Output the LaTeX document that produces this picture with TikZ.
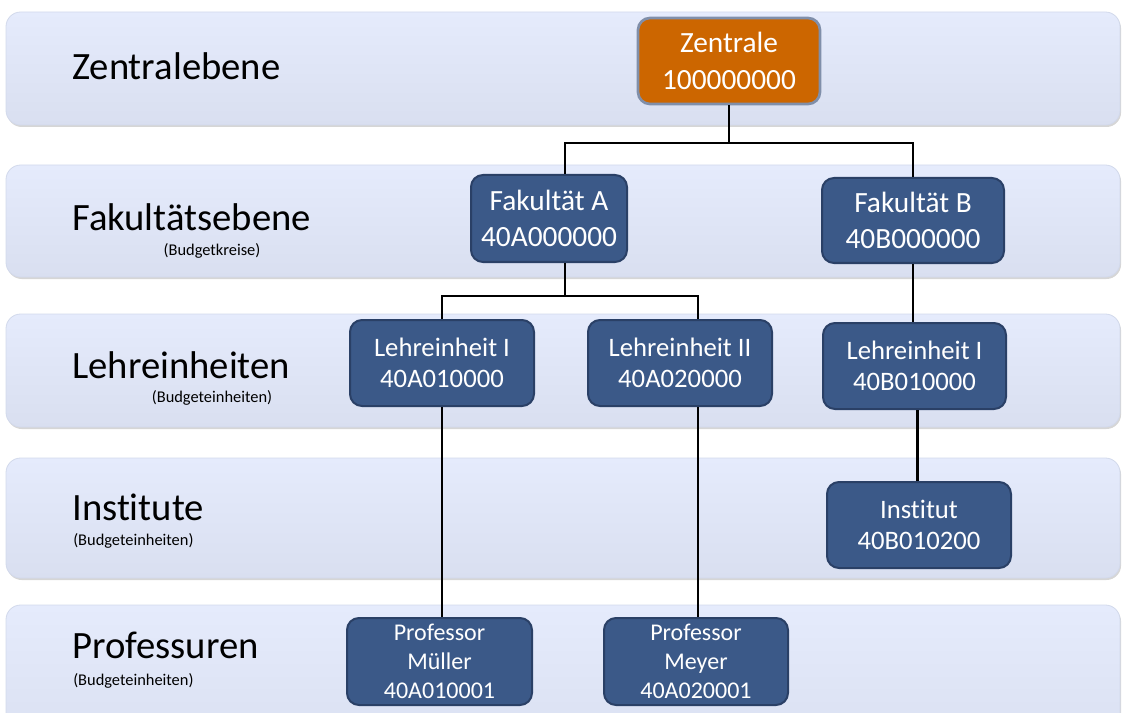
\documentclass[tikz,border=0pt]{standalone}
\usepackage{fontspec}
\setmainfont{Carlito}[Ligatures={NoCommon}]
\usetikzlibrary{shadows}
\definecolor{bandtop}{RGB}{229,235,252}
\definecolor{bandbot}{RGB}{217,223,240}
\definecolor{bandline}{RGB}{210,217,235}
\definecolor{nodefill}{RGB}{59,89,136}
\definecolor{nodeline}{RGB}{42,64,102}
\definecolor{orangefill}{RGB}{204,102,0}
\definecolor{orangeline}{RGB}{128,143,170}
\begin{document}
\begin{tikzpicture}[x=0.75pt,y=-0.75pt,
  band/.style={rounded corners=11pt, top color=bandtop, bottom color=bandbot, draw=bandline, line width=0.6pt,
    drop shadow={shadow xshift=0.8pt, shadow yshift=-1.5pt, opacity=0.4, fill=gray!80}},
  unit/.style={rounded corners=9pt, fill=nodefill, draw=nodeline, line width=1.5pt, text=white,
    align=center, inner sep=0pt, font=\fontsize{20}{23.5}\selectfont},
  bigunit/.style={unit, font=\fontsize{22}{27.5}\selectfont},
  profunit/.style={unit, font=\fontsize{18}{21.8}\selectfont},
  topunit/.style={bigunit, fill=orangefill, draw=orangeline, line width=2pt},
  lvl/.style={anchor=base west, inner sep=0pt, font=\fontsize{29}{34}\selectfont},
  sub/.style={anchor=base, inner sep=0pt, font=\fontsize{12.3}{14}\selectfont},
  subl/.style={anchor=base west, inner sep=0pt, font=\fontsize{12.3}{14}\selectfont},
  conn/.style={draw=black, line width=2.1pt}
]
\useasboundingbox (0,0) rectangle (1125,713);
\begin{scope}
\clip (0,0) rectangle (1125,713);
% bands
\draw[band] (6,12) rectangle (1120,125);
\draw[band] (6,165) rectangle (1120,277);
\draw[band] (6,314) rectangle (1120,427);
\draw[band] (6,458) rectangle (1120,578);
\draw[band] (6,605) rectangle (1120,760);
\end{scope}

% level labels
\node[lvl] (l1) at (72,80) {Zentralebene};
\node[lvl] (l2) at (72,230) {Fakultätsebene};
\node[sub] (s2) at (212,255) {(Budgetkreise)};
\node[lvl] (l3) at (72,378) {Lehreinheiten};
\node[sub] (s3) at (212,402) {(Budgeteinheiten)};
\node[lvl] (l4) at (72,520) {Institute};
\node[subl] (s4) at (73,545) {(Budgeteinheiten)};
\node[lvl] (l5) at (72,658) {Professuren};
\node[subl] (s5) at (73,685) {(Budgeteinheiten)};

% units
\node[topunit, minimum width=136.5pt, minimum height=64.5pt] (zen) at (729,61) {Zentrale\\100000000};
\node[bigunit, minimum width=117pt, minimum height=65.25pt] (fa) at (549,218.5) {Fakultät A\\40A000000};
\node[bigunit, minimum width=136.5pt, minimum height=63.75pt] (fb) at (913,220.5) {Fakultät B\\40B000000};
\node[unit, minimum width=138pt, minimum height=64.5pt] (lea) at (442,363) {Lehreinheit I\\40A010000};
\node[unit, minimum width=138pt, minimum height=64.5pt] (leb) at (680,363) {Lehreinheit II\\40A020000};
\node[unit, minimum width=137.25pt, minimum height=64.5pt] (lec) at (914.5,366) {Lehreinheit I\\40B010000};
\node[unit, minimum width=138pt, minimum height=64.5pt] (inst) at (919,525) {Institut\\40B010200};
\node[profunit, minimum width=138.75pt, minimum height=65.25pt] (pmu) at (439.5,661.5) {Professor\\Müller\\40A010001};
\node[profunit, minimum width=138pt, minimum height=65.25pt] (pme) at (696,661.5) {Professor\\Meyer\\40A020001};

% connectors
\coordinate (j1) at (729,143);
\coordinate (j2) at (565,296);
\draw[conn] (zen.south) -- (j1);
\draw[conn] ([xshift=12pt]fa.north) |- (j1) -| (fb.north);
\draw[conn] ([xshift=12pt]fa.south) -- (j2);
\draw[conn] (lea.north) |- (j2) -| ([xshift=13.5pt]leb.north);
\draw[conn] (lea.south) -- (lea.south |- pmu.north);
\draw[conn] ([xshift=13.5pt]leb.south) -- ([xshift=13.5pt]leb.south |- pme.north);
\draw[conn] (fb.south) -- (fb.south |- lec.north);
\draw[conn] ([xshift=2.5pt]lec.south) -- ([xshift=2.5pt]lec.south |- inst.north);
\end{tikzpicture}
\end{document}
